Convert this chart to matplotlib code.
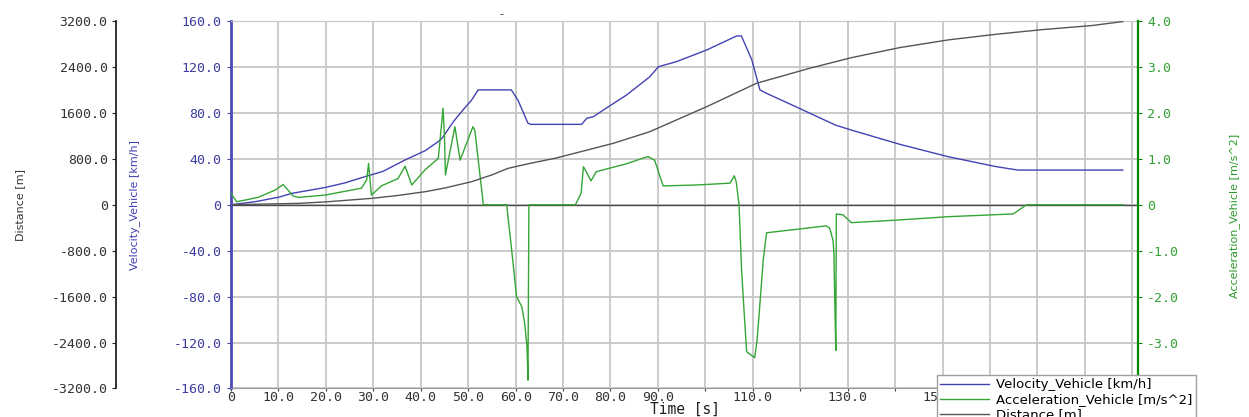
import matplotlib
matplotlib.use("Agg")
import matplotlib.pyplot as plt
import numpy as np

# Velocity_Vehicle [km/h]
t_vel = [0, 5, 10, 12.8, 15, 19.8, 24, 28.2, 32, 36.7, 40.9, 43.7, 44.5, 46.5, 47.2, 49, 50.7,
         52.1, 59.1, 60.5, 62.6, 63.2, 73.9, 75, 76.4, 78.5, 83.4, 88.3, 90.1, 93.9, 100.3,
         106.6, 107.6, 109.8, 111.5, 112.9, 120.1, 127.4, 130.8, 141, 151.2, 161.4, 165.9, 188]
velocity = [0, 2.6, 6.5, 9.9, 11.5, 15, 19, 24.4, 29, 39, 47, 55, 58, 70, 74, 83, 91,
            100, 100, 91, 71, 70, 70, 75.3, 76.7, 82.5, 95.6, 111.5, 120.2, 124.6, 134.8,
            147, 147, 126, 100, 97, 83.4, 69.4, 65, 52.6, 41.8, 33.1, 30.2, 30.2]

# Acceleration_Vehicle [m/s^2]
t_acc = [0, 1.2, 5.7, 9.3, 11, 13.1, 14.2, 19.8, 27.5, 28.6, 29, 29.3, 29.6, 31.7, 35.2, 36.7,
         38.1, 40.9, 43.7, 44.4, 44.7, 45.0, 45.2, 47.2, 48.3, 51, 51.4, 53.2, 58.1, 59.1,
         60.2, 61.3, 61.9, 62.4, 62.6, 62.8, 72.6, 73.8, 74.3, 75.9, 77, 83.3, 87.9, 89.3,
         91.1, 98.1, 105.2, 106.1, 106.5, 107.1, 107.6, 108.1, 108.7, 110.4, 110.9, 111.5,
         112.2, 112.9, 125.5, 126.2, 126.9, 127.1, 127.3, 127.5, 127.6, 129, 130.8, 141,
         151.2, 164.9, 167.7, 188]
accel = [0.25, 0.065, 0.16, 0.32, 0.44, 0.19, 0.16, 0.21, 0.36, 0.54, 0.9, 0.54, 0.21, 0.41, 0.57, 0.84,
         0.43, 0.76, 1.01, 1.77, 2.1, 1.5, 0.65, 1.7, 0.97, 1.7, 1.62, 0, 0, -0.92,
         -2.0, -2.22, -2.58, -3.09, -3.82, 0, 0, 0.25, 0.83, 0.52, 0.72, 0.89, 1.05, 0.97,
         0.41, 0.43, 0.47, 0.63, 0.5, 0, -1.35, -2.22, -3.2, -3.33, -2.95, -2.15,
         -1.2, -0.61, -0.46, -0.51, -0.77, -1.06, -2.2, -3.17, -0.2, -0.22, -0.39, -0.33,
         -0.26, -0.2, 0, 0]

# Distance [m]
t_dist = [0, 14.2, 20, 29.6, 35, 40.9, 45, 50.7, 55, 58.4, 63, 68.3, 80.6, 88.3, 100.6,
          110.8, 122, 130.8, 141, 151.2, 161.4, 171.2, 181.4, 188]
distance = [0, 24, 50, 111, 160, 227, 290, 401, 520, 634, 720, 809, 1070, 1273, 1720,
            2116, 2377, 2562, 2737, 2871, 2970, 3051, 3120, 3190]

# labels that the viewer hid (overlap / under the legend) are left empty
x_ticks = list(range(0, 200, 10))
x_labels = ["0", "10.0", "20.0", "30.0", "40.0", "50.0", "60.0", "70.0", "80.0", "90.0",
            "", "110.0", "", "130.0", "", "150.0", "", "", "", ""]


def fmt(v):
    return "0" if v == 0 else f"{v:.1f}"


c_vel = "#4343b3"
c_acc = "#35a535"
c_dist = "#555555"
mono = "DejaVu Sans Mono"

fig = plt.figure(figsize=(12.49, 4.17), dpi=100)
ax = fig.add_axes([0.18495, 0.06835, 0.72618, 0.88129])
ax_a = ax.twinx()
ax_d = ax.twinx()

l1, = ax.plot(t_vel, velocity, color=c_vel, lw=1.0)
l2, = ax_a.plot(t_acc, accel, color=c_acc, lw=1.0)
l3, = ax_d.plot(t_dist, distance, color=c_dist, lw=1.0)
ax.axhline(0, color="#4a4a4a", lw=1.0, zorder=1)

ax.set_xlim(0, 191.2)
ax.set_ylim(-160, 160)
ax_a.set_ylim(-4, 4)
ax_d.set_ylim(-3200, 3200)

ax.set_axisbelow(True)
ax.grid(True, color="#c6c6c6", lw=1.3)

ax.set_xticks(x_ticks)
ax.set_xticklabels(x_labels, fontfamily=mono, fontsize=9.5, color="#333333")
ax.tick_params(axis="x", length=2, color="#404040", pad=0)

vt = np.arange(-160, 161, 40)
ax.set_yticks(vt)
ax.set_yticklabels([fmt(v) for v in vt], fontfamily=mono, fontsize=9.5, color="#3c3ca0")
ax.tick_params(axis="y", length=3, color=c_vel, pad=4)

# the -4.0 label sits under the legend in the original
at = np.arange(-4, 4.1, 1)
ax_a.set_yticks(at)
ax_a.set_yticklabels(["" if v == -4 else fmt(v) for v in at], fontfamily=mono, fontsize=9.5,
                     color="#35a035")
ax_a.tick_params(axis="y", length=3, color="#008800", pad=3.5)

dt = np.arange(-3200, 3201, 800)
ax_d.spines["left"].set_position(("axes", -115 / 907))
ax_d.yaxis.set_ticks_position("left")
ax_d.yaxis.set_label_position("left")
ax_d.set_yticks(dt)
ax_d.set_yticklabels([fmt(v) for v in dt], fontfamily=mono, fontsize=9.5, color="#333333")
ax_d.tick_params(axis="y", length=3, color="#222222", pad=3)

for s in ["top", "bottom", "right"]:
    ax_d.spines[s].set_visible(False)
ax_d.spines["left"].set_visible(True)
ax_d.spines["left"].set_color("#222222")
ax_d.spines["left"].set_linewidth(1.3)
for s in ["top", "bottom", "left"]:
    ax_a.spines[s].set_visible(False)
ax_a.spines["right"].set_color("#008800")
ax_a.spines["right"].set_linewidth(1.6)
ax.spines["right"].set_visible(False)
ax.spines["left"].set_color("#4a4ab8")
ax.spines["left"].set_linewidth(2)
ax.spines["top"].set_color("#c6c6c6")
ax.spines["bottom"].set_color("#9a9a9a")

ax.set_xlabel("Time [s]", fontfamily=mono, fontsize=10.5, color="#222222", va="center")
ax.xaxis.set_label_coords(0.5, (388.5 - 409.5) / 367.5)
ax.set_ylabel("Velocity_Vehicle [km/h]", fontsize=8, color="#4040b0", va="center")
ax.yaxis.set_label_coords((135 - 231) / 907, 0.5)
ax_a.set_ylabel("Acceleration_Vehicle [m/s^2]", fontsize=8, color="#2a9a2a", va="center", rotation=90)
ax_a.yaxis.set_label_coords((1235 - 231) / 907, 0.47)
ax_d.set_ylabel("Distance [m]", fontsize=8, color="#333333", va="center")
ax_d.yaxis.set_label_coords((20 - 231) / 907, 0.5)

fig.text(501 / 1249, 1 - 14 / 417, "-", fontsize=8, ha="center", va="center", color="#333333")

leg = fig.legend([l1, l2, l3],
                 ["Velocity_Vehicle [km/h]", "Acceleration_Vehicle [m/s^2]", "Distance [m]"],
                 loc="upper left", bbox_to_anchor=(937 / 1249, 1 - 375 / 417),
                 borderaxespad=0, fontsize=9.5, frameon=True, fancybox=False,
                 edgecolor="#a0a0a0", framealpha=1, handlelength=3.7, handletextpad=0.55,
                 labelspacing=0.15, borderpad=0.25)
leg.get_frame().set_linewidth(1.0)

fig.savefig("out.png", dpi=100)
